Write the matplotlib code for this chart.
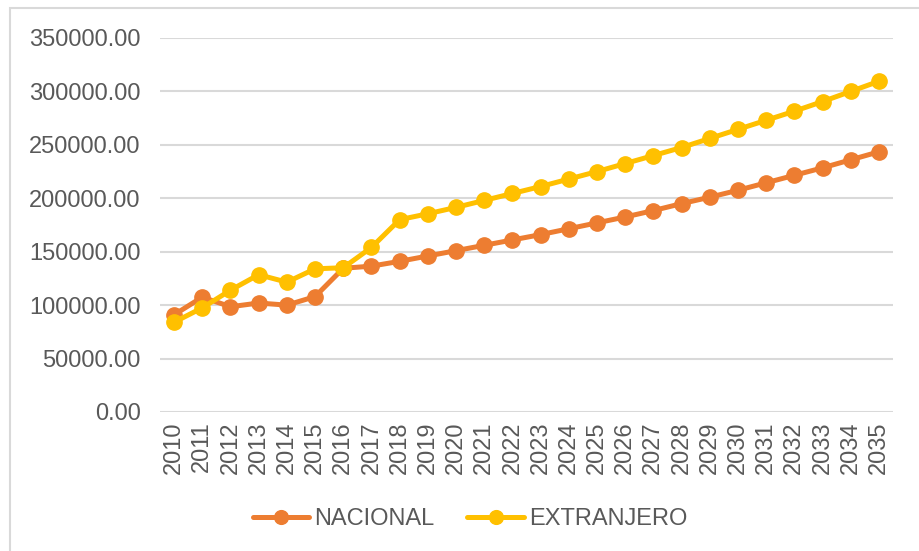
import matplotlib.pyplot as plt
from matplotlib.patches import Rectangle

plt.rcParams['font.family'] = ['Liberation Sans', 'DejaVu Sans']

# data
years = [str(y) for y in range(2010, 2036)]
nacional = [91000, 107500, 98500, 102000, 100000, 108000, 134500, 136500,
            141000, 146000, 151000, 156000, 161000, 166000, 171500, 177000,
            182500, 188500, 195000, 201000, 207500, 214500, 221500, 228500,
            236000, 243500]
extranjero = [84000, 97500, 114000, 128500, 121500, 134000, 135000, 154000,
              180000, 185500, 191500, 198000, 204500, 211000, 218000, 225000,
              232500, 240000, 247500, 256000, 264500, 273000, 281500, 290500,
              300000, 309500]
yticks = [0, 50000, 100000, 150000, 200000, 250000, 300000, 350000]

c_nac = '#ED7D31'
c_ext = '#FFC000'
txt = '#595959'
grid = '#d9d9d9'

fig = plt.figure(figsize=(9.2, 5.51), dpi=100)
ax = fig.add_axes([160/920, 1 - 412/551, 733/920, 374/551])

x = range(len(years))
ax.plot(x, nacional, color=c_nac, lw=3.6, marker='o', ms=11, label='NACIONAL',
        solid_capstyle='round', zorder=3)
ax.plot(x, extranjero, color=c_ext, lw=3.6, marker='o', ms=11, label='EXTRANJERO',
        solid_capstyle='round', zorder=4)

ax.set_xlim(-0.5, len(years) - 0.5)
ax.set_ylim(0, 350000)
ax.set_yticks(yticks)
ax.set_yticklabels([f'{v:.2f}' for v in yticks])
ax.set_xticks(list(x))
ax.set_xticklabels(years, rotation=90)

ax.grid(axis='y', color=grid, lw=1.5)
ax.set_axisbelow(True)
for s in ax.spines.values():
    s.set_visible(False)
ax.tick_params(axis='both', length=0, labelsize=17, labelcolor=txt)
ax.tick_params(axis='y', pad=14)
ax.tick_params(axis='x', pad=7)

fig.legend(loc='center', bbox_to_anchor=(470/920, 1 - 519/551), ncol=2,
           frameon=False, fontsize=17, labelcolor=txt, handlelength=2.4,
           handletextpad=0.2, columnspacing=1.4, markerscale=0.9)

# outer chart frame
fig.patches.append(Rectangle((10/920, -0.01), 1.0, 1 - 8/551 + 0.01,
                             transform=fig.transFigure, fill=False,
                             edgecolor=grid, lw=1.5))

fig.savefig('out.png', dpi=100)
